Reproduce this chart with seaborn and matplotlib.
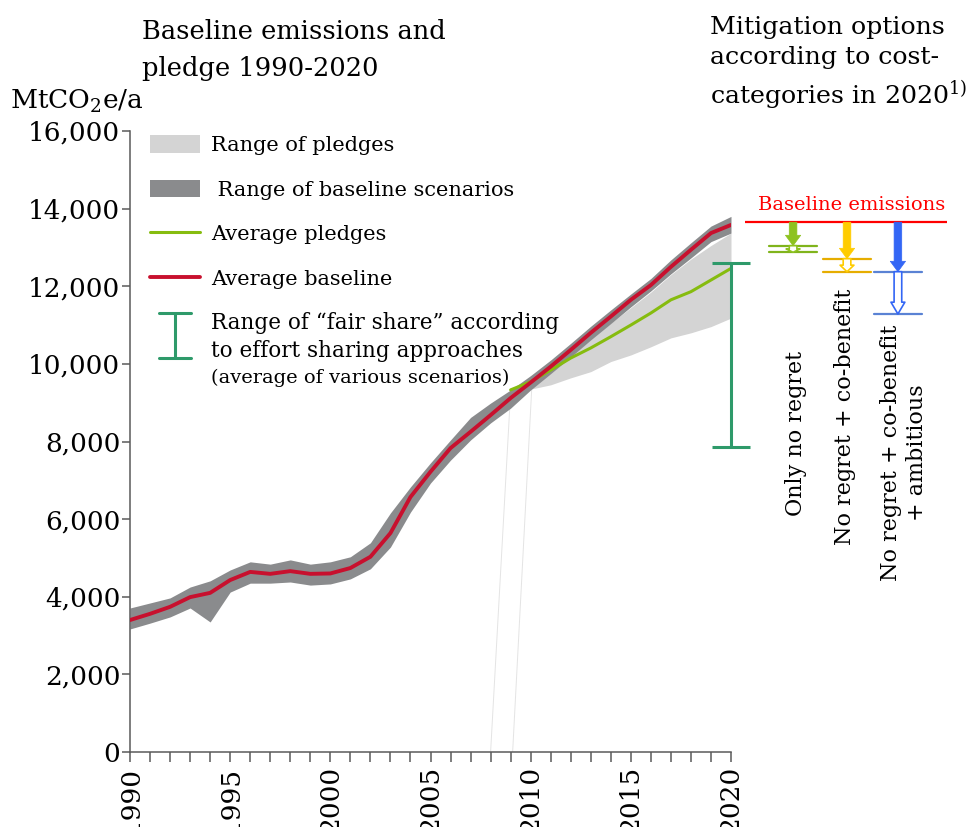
import numpy as np
import matplotlib
matplotlib.use('Agg')
import matplotlib.pyplot as plt
import seaborn as sns
from matplotlib.patches import Patch
from matplotlib.lines import Line2D

# ---- data (MtCO2e/a) ----
years = np.arange(1990, 2021)
baseline_avg = [3400, 3560, 3740, 3990, 4100, 4430, 4640, 4590, 4660, 4590,
                4600, 4740, 5030, 5640, 6570, 7220, 7830, 8250, 8680, 9120,
                9520, 9930, 10360, 10800, 11220, 11650, 12030, 12500, 12940, 13370, 13580]
baseline_high = [3710, 3840, 3970, 4250, 4410, 4690, 4900, 4840, 4950, 4840,
                 4900, 5030, 5390, 6160, 6830, 7450, 8040, 8620, 8990, 9330,
                 9700, 10100, 10530, 10970, 11390, 11800, 12200, 12680, 13120, 13550, 13800]
baseline_low = [3170, 3320, 3480, 3710, 3350, 4120, 4350, 4350, 4380, 4300,
                4330, 4460, 4720, 5280, 6180, 6930, 7520, 8040, 8480, 8860,
                9330, 9750, 10180, 10620, 11040, 11470, 11880, 12320, 12730, 13150, 13370]

pledge_years = np.arange(2009, 2021)
pledge_avg = [9330, 9540, 9840, 10150, 10410, 10700, 11000, 11310, 11650, 11860, 12160, 12460]
pledge_low = [9300, 9350, 9460, 9640, 9800, 10060, 10230, 10440, 10670, 10800, 10960, 11180]
pledge_high = [9300, 9400, 9800, 10200, 10650, 11050, 11450, 11850, 12300, 12700, 13050, 13370]

# faint edges of the pledge polygon visible in the original
ghost_x = [[2008.0, 2009.0], [2009.1, 2010.05]]
ghost_y = [[0, 9280], [0, 9330]]

fair_year = 2020
fair_low, fair_high = 7860, 12600

baseline_2020 = 13650
option_labels = ['Only no regret', 'No regret + co-benefit', 'No regret + co-benefit\n+ ambitious']
option_upper = [13045, 12710, 12375]
option_lower = [12875, 12375, 11285]
option_arrow_colors = ['#8dc21f', '#ffcc00', '#3366f5']
option_line_colors = ['#80b41c', '#e6ad00', '#5a82d4']

# ---- style ----
sns.set_style('ticks')
plt.rcParams['font.family'] = ['DejaVu Serif']
plt.rcParams['mathtext.fontset'] = 'dejavuserif'
plt.rcParams['text.color'] = 'black'
plt.rcParams['xtick.color'] = 'black'
plt.rcParams['ytick.color'] = 'black'

W, H = 976, 827
fig = plt.figure(figsize=(W / 100, H / 100), dpi=100)
ax = fig.add_axes([130 / W, 75 / H, 601 / W, 621 / H])
axr = fig.add_axes([745 / W, 75 / H, 202 / W, 621 / H])

for gx, gy in zip(ghost_x, ghost_y):
    ax.plot(gx, gy, color='#e4e4e4', lw=0.7, zorder=0)

ax.fill_between(pledge_years, pledge_low, pledge_high, color='#d4d4d4', lw=0, zorder=1)
ax.fill_between(years, baseline_low, baseline_high, color='#8a8b8d', lw=0, zorder=2)
sns.lineplot(x=pledge_years, y=pledge_avg, color='#86bc0f', lw=2.2, ax=ax, zorder=3)
sns.lineplot(x=years, y=baseline_avg, color='#c8102e', lw=2.8, ax=ax, zorder=4)

eb = ax.errorbar([fair_year], [(fair_low + fair_high) / 2], yerr=[(fair_high - fair_low) / 2],
                 fmt='none', ecolor='#2e9a6a', elinewidth=2.2, capsize=13.5, capthick=2.2, zorder=5)
for art in eb.get_children():
    art.set_clip_on(False)

ax.set_xlim(1990, 2020)
ax.set_ylim(0, 16000)
ax.set_xticks(range(1990, 2021, 5))
ax.set_xticks(range(1990, 2021), minor=True)
ax.set_yticks(range(0, 16001, 2000))
ax.set_yticklabels([f'{v:,}' for v in range(0, 16001, 2000)], fontsize=19)
ax.set_xticklabels([str(y) for y in range(1990, 2021, 5)], rotation=90, fontsize=19)
ax.tick_params(axis='x', which='both', length=7, width=1.1, color='#5a5a5a', direction='out', pad=3)
ax.tick_params(axis='y', length=6, width=1.1, color='#5a5a5a', direction='out', pad=1)
ax.set_xlabel('')
ax.set_ylabel('')
sns.despine(ax=ax)
for s in ['left', 'bottom']:
    ax.spines[s].set_color('#5a5a5a')
    ax.spines[s].set_linewidth(1.1)

# legend
handles = [Patch(fc='#d4d4d4', ec='none'), Patch(fc='#8a8b8d', ec='none'),
           Line2D([], [], color='#86bc0f', lw=2.2), Line2D([], [], color='#c8102e', lw=2.8)]
labels = ['Range of pledges', ' Range of baseline scenarios', 'Average pledges', 'Average baseline']
ax.legend(handles, labels, loc='upper left', bbox_to_anchor=(20 / 601, (752 - 135) / 621),
          frameon=False, fontsize=15, borderpad=0, borderaxespad=0, handlelength=2.4,
          handleheight=0.95, handletextpad=0.55, labelspacing=1.17)


def xf(px):
    return (px - 130) / 601


def yf(py):
    return (752 - py) / 621


fs_col = '#2e9a6a'
ax.plot([xf(175), xf(175)], [yf(313), yf(358)], color=fs_col, lw=2.2, transform=ax.transAxes)
ax.plot([xf(159), xf(191)], [yf(313), yf(313)], color=fs_col, lw=2.2, transform=ax.transAxes)
ax.plot([xf(159), xf(191)], [yf(358), yf(358)], color=fs_col, lw=2.2, transform=ax.transAxes)
ax.text(xf(211), yf(312), 'Range of \u201cfair share\u201d according\nto effort sharing approaches',
        transform=ax.transAxes, fontsize=15.5, va='top', ha='left', linespacing=1.35)
ax.text(xf(211), yf(369), '(average of various scenarios)', transform=ax.transAxes,
        fontsize=14, va='top', ha='left')

# right panel: mitigation options
axr.set_xlim(0, 1)
axr.set_ylim(0, 16000)
axr.axis('off')
axr.plot([0, 1], [baseline_2020, baseline_2020], color='#ff0000', lw=1.6)
axr.text(0.53, 14094, 'Baseline emissions', color='#ff0000', ha='center', va='center', fontsize=14)

arrow_x = [0.238, 0.505, 0.757]
text_x = [0.252, 0.495, 0.787]
text_y = [8220, 8630, 7700]
px_per_unit = 621 / 16000
for i, lab in enumerate(option_labels):
    x = arrow_x[i]
    c = option_arrow_colors[i]
    lc = option_line_colors[i]
    for lvl in (option_upper[i], option_lower[i]):
        axr.plot([x - 0.119, x + 0.119], [lvl, lvl], color=lc, lw=1.6)
    solid_len = (baseline_2020 - option_upper[i]) * px_per_unit * 0.72
    hl = min(0.75, 0.5 * solid_len / 10)
    axr.annotate('', xy=(x, option_upper[i]), xytext=(x, baseline_2020),
                 arrowprops=dict(arrowstyle=f'simple,head_length={hl:.2f},head_width=1.1,tail_width=0.55',
                                 mutation_scale=10, fc=c, ec=c, lw=0.5, shrinkA=0, shrinkB=0))
    hollow_len = (option_upper[i] - option_lower[i]) * px_per_unit * 0.72
    hl2 = min(0.85, 0.5 * hollow_len / 10)
    axr.annotate('', xy=(x, option_lower[i]), xytext=(x, option_upper[i]),
                 arrowprops=dict(arrowstyle=f'simple,head_length={hl2:.2f},head_width=1.0,tail_width=0.55',
                                 mutation_scale=10, fc='white', ec=c, lw=1.2, shrinkA=0, shrinkB=0))
    axr.text(text_x[i], text_y[i], lab, rotation=90, ha='center', va='center',
             fontsize=16, multialignment='center')

# titles
fig.text(142 / W, 1 - 19 / H, 'Baseline emissions and\npledge 1990-2020', fontsize=18.5,
         va='top', ha='left', linespacing=1.6)
fig.text(710 / W, 1 - 16 / H, 'Mitigation options\naccording to cost-\ncategories in 2020$^{1)}$',
         fontsize=18.2, va='top', ha='left', linespacing=1.38)
fig.text(10 / W, 1 - 101 / H, 'MtCO$_2$e/a', fontsize=19, va='center', ha='left')

fig.savefig('out.png', dpi=100)
